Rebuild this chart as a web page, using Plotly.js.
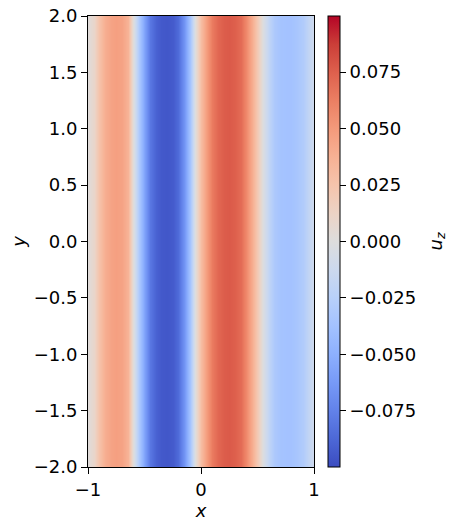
<!DOCTYPE html>
<html>
<head>
<meta charset="utf-8">
<script src="https://cdn.plot.ly/plotly-3.0.1.min.js"></script>
<style>
  body { margin: 0; padding: 0; background: #fff; }
  #myPlot { width: 453px; height: 529px; }
</style>
</head>
<body>
<div id="myPlot"></div>
<script>
// u_z profile, it only varies with x
var xVals = [-1.00, -0.95, -0.90, -0.85, -0.80, -0.75, -0.70, -0.65, -0.60, -0.55,
             -0.50, -0.45, -0.40, -0.35, -0.30, -0.25, -0.20, -0.15, -0.10, -0.05,
              0.00,  0.05,  0.10,  0.15,  0.20,  0.25,  0.30,  0.35,  0.40,  0.45,
              0.50,  0.55,  0.60,  0.65,  0.70,  0.75,  0.80,  0.85,  0.90,  0.95, 1.00];
var uzVals = [0.002, 0.010, 0.026, 0.039, 0.045, 0.047, 0.045, 0.036, 0.002, -0.032,
             -0.060, -0.080, -0.090, -0.094, -0.095, -0.093, -0.086, -0.066, -0.036, 0.000,
              0.030, 0.050, 0.064, 0.072, 0.076, 0.077, 0.075, 0.070, 0.058, 0.040,
              0.018, -0.002, -0.020, -0.031, -0.036, -0.037, -0.037, -0.034, -0.029, -0.020, -0.010];
var yVals = [-2, 2];

var yTicks = [-2.0, -1.5, -1.0, -0.5, 0.0, 0.5, 1.0, 1.5, 2.0];
var xTicks = [-1, 0, 1];
var cbTicks = [-0.075, -0.050, -0.025, 0.000, 0.025, 0.050, 0.075];

// matplotlib coolwarm
var coolwarm = [
  [0.0, "rgb(59,76,192)"], [0.0625, "rgb(77,104,215)"], [0.125, "rgb(98,130,234)"],
  [0.1875, "rgb(119,154,247)"], [0.25, "rgb(141,176,254)"], [0.3125, "rgb(163,194,255)"],
  [0.375, "rgb(184,208,249)"], [0.4375, "rgb(204,217,238)"], [0.5, "rgb(221,221,221)"],
  [0.5625, "rgb(236,211,197)"], [0.625, "rgb(245,196,172)"], [0.6875, "rgb(247,177,148)"],
  [0.75, "rgb(244,154,123)"], [0.8125, "rgb(236,127,99)"], [0.875, "rgb(222,96,77)"],
  [0.9375, "rgb(203,62,56)"], [1.0, "rgb(180,4,38)"]
];

var zGrid = yVals.map(function () { return uzVals; });

var data = [{
  type: "heatmap",
  x: xVals,
  y: yVals,
  z: zGrid,
  zsmooth: "best",
  colorscale: coolwarm,
  zmin: -0.0998,
  zmax: 0.0998,
  colorbar: {
    x: 1.062, xanchor: "left", xpad: 0,
    y: 0.5, yanchor: "middle", ypad: 0,
    len: 1, lenmode: "fraction",
    thickness: 12,
    outlinewidth: 1, outlinecolor: "black",
    ticks: "outside", ticklen: 6, tickcolor: "black",
    tickvals: cbTicks, tickformat: ".3f",
    tickfont: { size: 18, color: "black" }
  }
}];

var fnt = { family: "DejaVu Sans", size: 18, color: "black" };

var layout = {
  width: 453,
  height: 529,
  margin: { l: 88, r: 139, t: 16, b: 62 },
  font: fnt,
  paper_bgcolor: "white",
  plot_bgcolor: "white",
  xaxis: {
    range: [-1, 1], tickvals: xTicks, tickformat: "d",
    ticks: "outside", ticklen: 6, tickcolor: "black",
    showline: true, mirror: true, linecolor: "black", linewidth: 1,
    showgrid: false, zeroline: false,
    title: { text: "<i>x</i>", font: fnt, standoff: 2 }
  },
  yaxis: {
    range: [-2, 2], tickvals: yTicks, tickformat: ".1f",
    ticks: "outside", ticklen: 6, tickcolor: "black",
    showline: true, mirror: true, linecolor: "black", linewidth: 1,
    showgrid: false, zeroline: false,
    title: { text: "<i>y</i>", font: fnt, standoff: 3 }
  },
  annotations: [{
    // colorbar label
    text: "<i>u</i><sub><i>z</i></sub>",
    xref: "paper", yref: "paper",
    x: 1.54, y: 0.5, xanchor: "center", yanchor: "middle",
    textangle: -90, showarrow: false,
    font: fnt
  }]
};

Plotly.newPlot("myPlot", data, layout, { displayModeBar: false, staticPlot: true });
</script>
</body>
</html>
